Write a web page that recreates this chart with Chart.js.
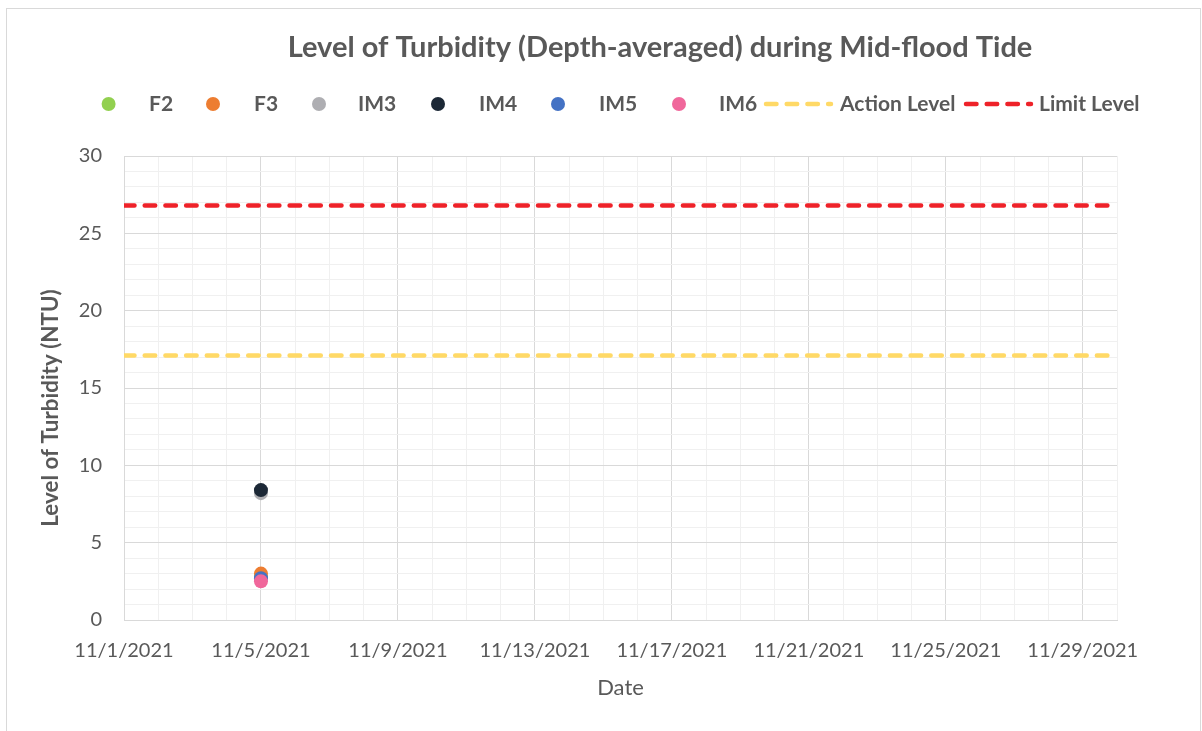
<!DOCTYPE html>
<html><head><meta charset="utf-8">
<script src="https://cdn.jsdelivr.net/npm/chart.js@4.4.0/dist/chart.umd.min.js"></script>
<style>
html,body{margin:0;padding:0;background:#fff;overflow:hidden;}
#wrap{position:relative;width:1202px;height:731px;}
#frame{position:absolute;left:6px;top:8px;width:1195px;height:740px;border:1px solid #d9d9d9;box-sizing:border-box;}
canvas{position:absolute;left:0;top:0;}
</style></head><body>
<div id="wrap"><div id="frame"></div><canvas id="c" width="1202" height="731"></canvas></div>
<script>
// ---- data ----
const chartTitle = 'Level of Turbidity (Depth-averaged) during Mid-flood Tide';
const xAxisTitle = 'Date';
const yAxisTitle = 'Level of Turbidity (NTU)';
const stations = ['F2', 'F3', 'IM3', 'IM4', 'IM5', 'IM6'];
const sampleDates = ['11/5/2021'];
const F2 = [2.8];
const F3 = [3.0];
const IM3 = [8.2];
const IM4 = [8.4];
const IM5 = [2.7];
const IM6 = [2.5];
const levelNames = ['Action Level', 'Limit Level'];
const actionLevel = 17.1;
const limitLevel = 26.8;
const xStartDate = '11/1/2021';
const xEndDate = '11/30/2021';
const yMin = 0, yMax = 30;

// ---- styles ----
const stationColors = ['#92d050', '#ed7d31', '#aeaeb2', '#1c2836', '#4472c4', '#f0679b'];
const levelColors = ['#ffd966', '#ee2229'];
const textColor = '#595959';
const FONT = 'Lato, "Open Sans", sans-serif';
const legendMarkX = [108.6, 213, 319, 438, 558, 679, [764, 833], [964, 1033]];
const legendTextX = [149, 254, 358, 479, 599, 719, 840, 1039];
const legendY = 104;

const dayOf = s => Number(s.split('/')[1]);
const seriesValues = [F2, F3, IM3, IM4, IM5, IM6];

const datasets = stations.map((name, i) => ({
  label: name,
  data: seriesValues[i].map((v, k) => ({ x: dayOf(sampleDates[k]), y: v })),
  backgroundColor: stationColors[i],
  borderColor: stationColors[i],
  pointRadius: 7,
  pointBorderWidth: 0,
  showLine: false,
  order: stations.length - i + 2
}));
[actionLevel, limitLevel].forEach((lv, i) => datasets.push({
  label: levelNames[i],
  data: [{ x: dayOf(xStartDate), y: lv }, { x: dayOf(xEndDate), y: lv }],
  borderColor: levelColors[i],
  backgroundColor: levelColors[i],
  borderWidth: 4.5,
  borderDash: [10.5, 10.2],
  borderCapStyle: 'round',
  pointRadius: 0,
  showLine: true,
  order: 2 - i
}));

const overlay = {
  id: 'overlay',
  afterDraw(chart) {
    const ctx = chart.ctx;
    ctx.save();
    ctx.fillStyle = textColor;
    ctx.textBaseline = 'middle';
    ctx.textAlign = 'center';
    ctx.font = 'bold 29px ' + FONT;
    ctx.fillText(chartTitle, 660, 48);
    // legend
    ctx.font = 'bold 21px ' + FONT;
    ctx.textAlign = 'left';
    datasets.forEach((ds, i) => {
      const m = legendMarkX[i];
      if (Array.isArray(m)) {
        ctx.save();
        ctx.strokeStyle = ds.borderColor;
        ctx.lineWidth = ds.borderWidth;
        ctx.lineCap = 'round';
        ctx.setLineDash(ds.borderDash);
        ctx.beginPath();
        ctx.moveTo(m[0] + 2, legendY);
        ctx.lineTo(m[1] - 2, legendY);
        ctx.stroke();
        ctx.restore();
      } else {
        ctx.fillStyle = ds.backgroundColor;
        ctx.beginPath();
        ctx.arc(m, legendY, 7, 0, Math.PI * 2);
        ctx.fill();
      }
      ctx.fillStyle = textColor;
      ctx.fillText(ds.label, legendTextX[i], legendY);
    });
    // y axis title
    ctx.translate(51, 408);
    ctx.rotate(-Math.PI / 2);
    ctx.textAlign = 'center';
    ctx.font = 'bold 22.4px ' + FONT;
    ctx.fillText(yAxisTitle, 0, 0);
    ctx.restore();
  }
};

new Chart(document.getElementById('c'), {
  type: 'scatter',
  data: { datasets },
  options: {
    responsive: false,
    animation: false,
    devicePixelRatio: 1,
    events: [],
    layout: { padding: { top: 156, right: 85, left: 0, bottom: 0 } },
    plugins: { legend: { display: false }, tooltip: { enabled: false }, title: { display: false } },
    scales: {
      x: {
        type: 'linear',
        min: dayOf(xStartDate),
        max: dayOf(xEndDate),
        afterFit: s => { s.height = 111; },
        grid: {
          drawTicks: false,
          lineWidth: 1,
          color: c => (c.tick && (c.tick.value - 1) % 4 === 0) ? '#d9d9d9' : '#f0f0f0'
        },
        border: { color: '#d9d9d9', width: 1 },
        ticks: {
          stepSize: 1,
          autoSkip: false,
          maxRotation: 0,
          padding: 19,
          color: textColor,
          font: { family: FONT, size: 20 },
          callback: v => ((v - 1) % 4 === 0) ? ('11/' + v + '/2021') : ''
        },
        title: {
          display: true,
          text: xAxisTitle,
          color: textColor,
          font: { family: FONT, size: 22 },
          padding: { top: 0, bottom: 30 }
        }
      },
      y: {
        min: yMin,
        max: yMax,
        afterFit: s => { s.width = 124; },
        grid: {
          drawTicks: false,
          lineWidth: 1,
          color: c => (c.tick && c.tick.value % 5 === 0) ? '#d9d9d9' : '#f0f0f0'
        },
        border: { color: '#d9d9d9', width: 1 },
        ticks: {
          stepSize: 1,
          autoSkip: false,
          padding: 22,
          color: textColor,
          font: { family: FONT, size: 20 },
          callback: v => (v % 5 === 0) ? String(v) : ''
        }
      }
    }
  },
  plugins: [overlay]
});
</script>
</body></html>
